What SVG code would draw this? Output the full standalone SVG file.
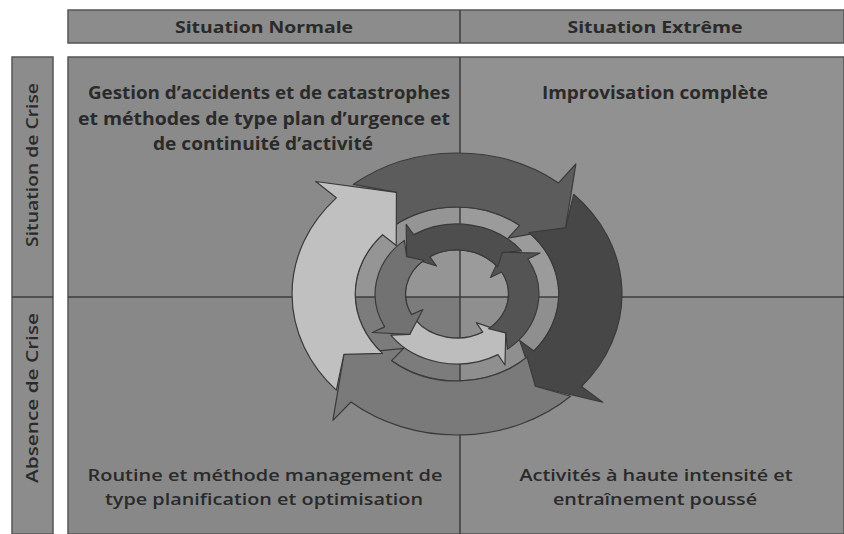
<svg xmlns="http://www.w3.org/2000/svg" width="844" height="534" viewBox="0 0 844 534">
<defs>
<style>
.bar{fill:#8c8c8c;stroke:#555;stroke-width:1.5}
.grid{stroke:#3c3c3c;stroke-width:1.5;fill:none}
.hd{font-family:"Open Sans","Liberation Sans",sans-serif;font-weight:700;font-size:16px;fill:#2a2a2a;text-anchor:middle}
.tt{font-family:"Open Sans","Liberation Sans",sans-serif;font-weight:700;font-size:17px;fill:#2a2a2a;text-anchor:middle}
.bt{font-family:"Open Sans","Liberation Sans",sans-serif;font-weight:600;font-size:17px;fill:#2a2a2a;text-anchor:middle}
.side{font-family:"Open Sans","Liberation Sans",sans-serif;font-weight:600;font-size:17px;fill:#2a2a2a;text-anchor:middle}
.ar{stroke:#3a3a3a;stroke-width:1.2;vector-effect:non-scaling-stroke;stroke-linejoin:round}
</style>
<clipPath id="disk"><ellipse cx="457" cy="294" rx="101.8" ry="87"/></clipPath>
</defs>
<rect width="844" height="534" fill="#ffffff"/>
<g id="header">
<rect class="bar" x="68" y="10" width="776" height="33"/>
<line class="grid" x1="460" y1="10" x2="460" y2="43"/>
<text class="hd" x="264" y="33" textLength="178" lengthAdjust="spacingAndGlyphs">Situation Normale</text>
<text class="hd" x="655" y="33" textLength="175" lengthAdjust="spacingAndGlyphs">Situation Extrême</text>
</g>
<g id="side">
<rect class="bar" x="12" y="57" width="41" height="477"/>
<line class="grid" x1="12" y1="297" x2="53" y2="297"/>
<text class="side" transform="translate(38,165) rotate(-90)" textLength="164" lengthAdjust="spacingAndGlyphs">Situation de Crise</text>
<text class="side" transform="translate(38,398) rotate(-90)" textLength="170" lengthAdjust="spacingAndGlyphs">Absence de Crise</text>
</g>
<g id="quadrants">
<rect x="68" y="57" width="392" height="240" fill="#8a8a8a"/>
<rect x="460" y="57" width="384" height="240" fill="#919191"/>
<rect x="68" y="297" width="392" height="237" fill="#888888"/>
<rect x="460" y="297" width="384" height="237" fill="#8d8d8d"/>
<rect x="68" y="57" width="776" height="477" fill="none" stroke="#555" stroke-width="1.5"/>
</g>
<g id="disk-bg" clip-path="url(#disk)">
<rect x="350" y="200" width="110" height="97" fill="#959595"/>
<rect x="460" y="200" width="110" height="97" fill="#9b9b9b"/>
<rect x="350" y="297" width="110" height="90" fill="#7c7c7c"/>
<rect x="460" y="297" width="110" height="90" fill="#8f8f8f"/>
</g>
<ellipse cx="457" cy="294" rx="101.8" ry="87" fill="none" stroke="#3a3a3a" stroke-width="1.2"/>
<ellipse cx="457" cy="294" rx="51.5" ry="44" fill="none" stroke="#3a3a3a" stroke-width="1.2"/>
<g id="connectors">
<line class="grid" x1="460" y1="57" x2="460" y2="534"/>
<line class="grid" x1="68" y1="297" x2="844" y2="297"/>
</g>
<g id="outer-arrows" transform="translate(457,294) scale(1.17,1)">
<path id="arrow-top" class="ar" fill="#5c5c5c" d="M-88.73,-109.57 A141,141 0 0 1 86.81,-111.11 L101.59,-130.02 L92.81,-66.20 L43.71,-55.95 L53.57,-68.56 A87,87 0 0 0 -54.75,-67.61 L-51.76,-101.57 Z"/>
<path id="arrow-right" class="ar" fill="#474747" d="M99.70,-99.70 A141,141 0 0 1 106.41,92.51 L124.53,108.26 L67.01,92.23 L53.58,46.58 L65.66,57.08 A87,87 0 0 0 61.52,-61.52 L92.81,-66.20 Z"/>
<path id="arrow-bottom" class="ar" fill="#7a7a7a" d="M97.06,102.28 A141,141 0 0 1 -90.63,108.01 L-106.06,126.39 L-96.67,60.41 L-45.64,54.39 L-55.92,66.64 A87,87 0 0 0 59.89,63.11 L67.01,92.23 Z"/>
<path id="arrow-left" class="ar" fill="#c0c0c0" d="M-103.13,96.16 A141,141 0 0 1 -103.13,-96.16 L-120.68,-112.53 L-51.76,-101.57 L-51.93,-48.42 L-63.63,-59.33 A87,87 0 0 0 -63.63,59.33 L-96.67,60.41 Z"/>
</g>
<g id="inner-arrows" transform="translate(457,294) scale(1.17,1)">
<path id="in-bottom" class="ar" fill="#bdbdbd" d="M-56.63,41.15 A70,70 0 0 0 35.00,60.62 L41.00,71.01 L41.69,38.87 L16.50,28.58 L22.00,38.11 A44,44 0 0 1 -35.60,25.86 L-40.30,40.30 Z"/>
<path id="in-right" class="ar" fill="#545454" d="M43.10,55.16 A70,70 0 0 0 60.62,-35.00 L71.01,-41.00 L38.87,-41.69 L28.58,-16.50 L38.11,-22.00 A44,44 0 0 1 27.09,34.67 L41.69,38.87 Z"/>
<path id="in-top" class="ar" fill="#4e4e4e" d="M55.16,-43.10 A70,70 0 0 0 -37.09,-59.36 L-43.45,-69.54 L-43.02,-37.40 L-17.49,-27.98 L-23.32,-37.31 A44,44 0 0 1 34.67,-27.09 L38.87,-41.69 Z"/>
<path id="in-left" class="ar" fill="#727272" d="M-45.00,-53.62 A70,70 0 0 0 -61.80,32.87 L-72.40,38.50 L-40.30,40.30 L-29.14,15.49 L-38.85,20.66 A44,44 0 0 1 -28.28,-33.70 L-43.02,-37.40 Z"/>
</g>
<g id="q-top-left">
<text class="tt" x="269" y="99" textLength="362" lengthAdjust="spacingAndGlyphs">Gestion d’accidents et de catastrophes</text>
<text class="tt" x="264" y="125" textLength="372" lengthAdjust="spacingAndGlyphs">et méthodes de type plan d’urgence et</text>
<text class="tt" x="263" y="150" textLength="220" lengthAdjust="spacingAndGlyphs">de continuité d’activité</text>
</g>
<g id="q-top-right">
<text class="tt" x="655" y="99" textLength="226" lengthAdjust="spacingAndGlyphs">Improvisation complète</text>
</g>
<g id="q-bottom-left">
<text class="bt" x="265" y="481" textLength="355" lengthAdjust="spacingAndGlyphs">Routine et méthode management de</text>
<text class="bt" x="264" y="505" textLength="318" lengthAdjust="spacingAndGlyphs">type planification et optimisation</text>
</g>
<g id="q-bottom-right">
<text class="bt" x="656" y="481" textLength="273" lengthAdjust="spacingAndGlyphs">Activités à haute intensité et</text>
<text class="bt" x="655" y="505" textLength="204" lengthAdjust="spacingAndGlyphs">entraînement poussé</text>
</g>
</svg>
